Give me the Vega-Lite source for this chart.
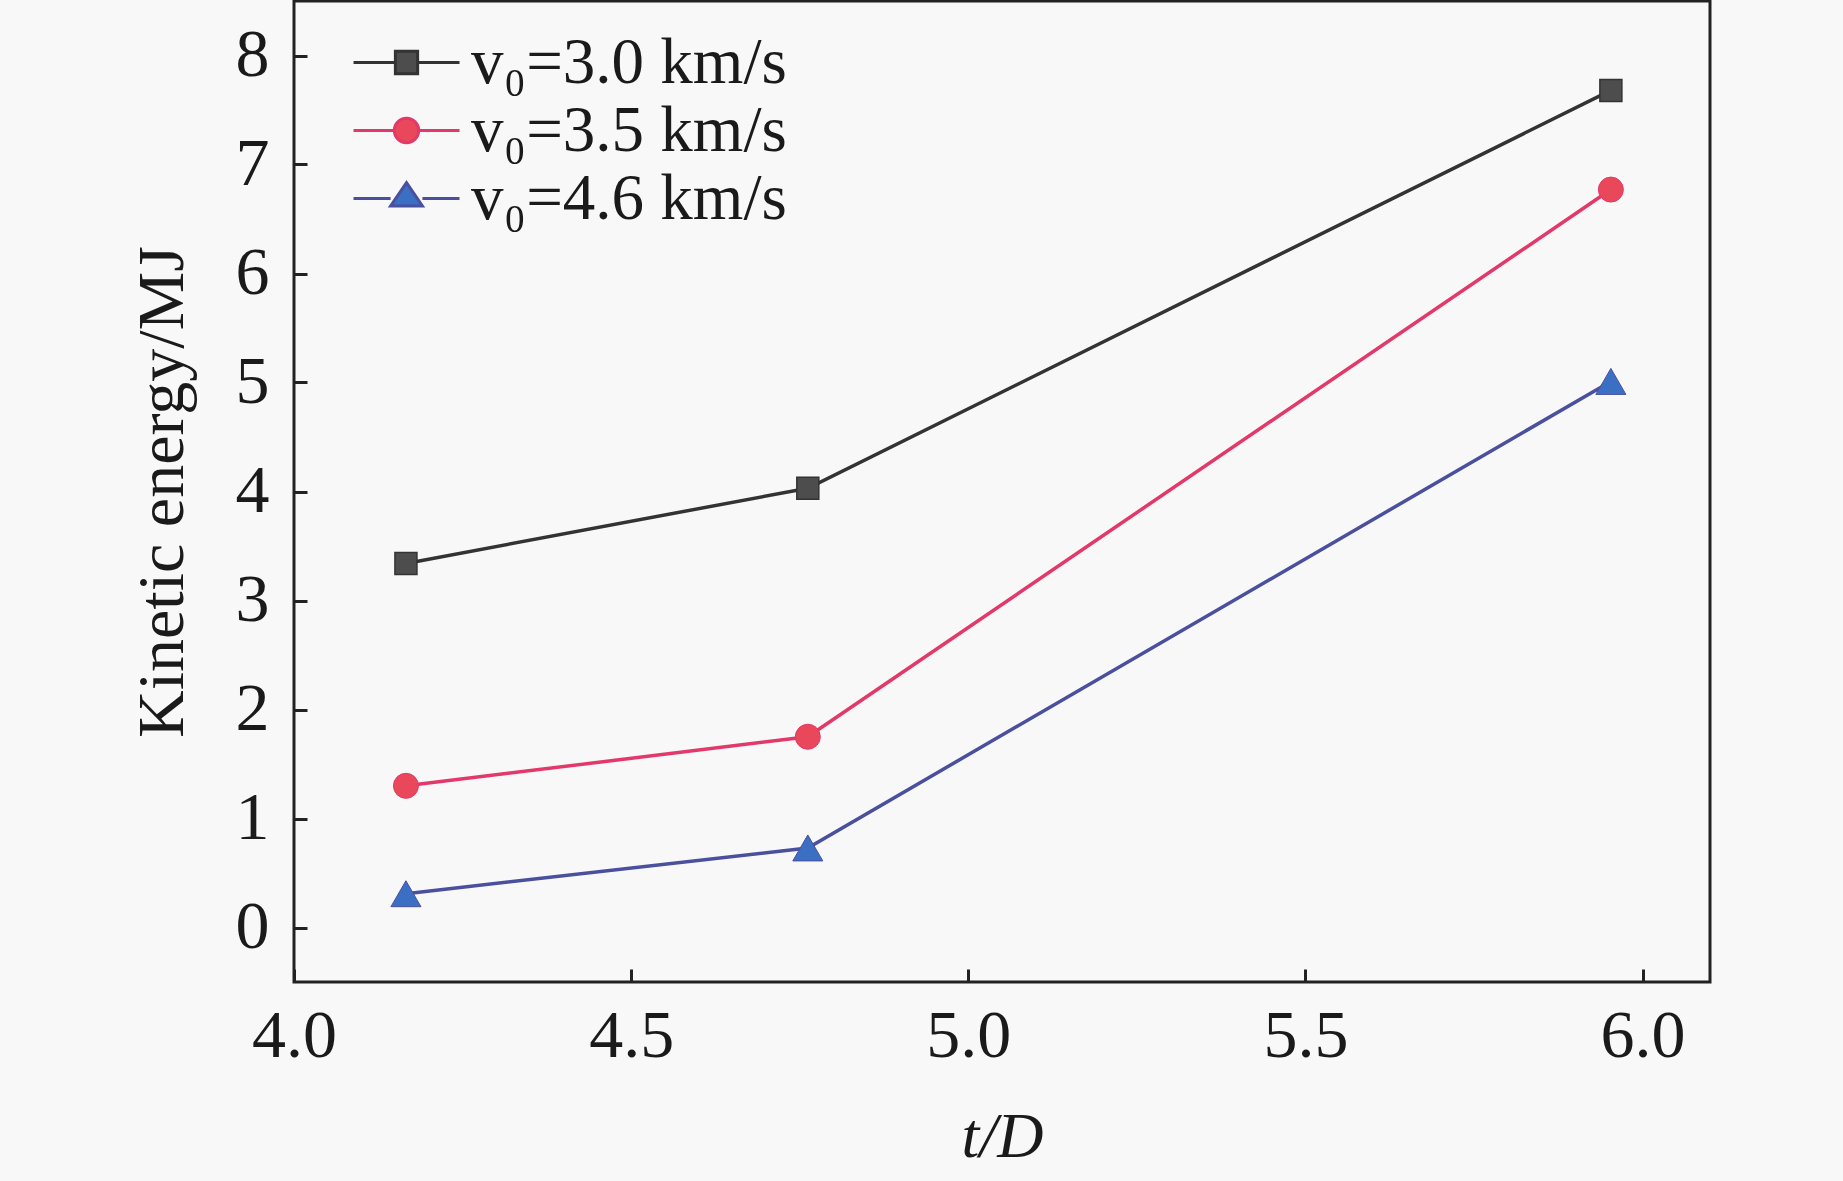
{
  "$schema": "https://vega.github.io/schema/vega-lite/v6.json",
  "width": 1416,
  "height": 981,
  "autosize": {"type": "none"},
  "padding": {"left": 294, "top": 1, "right": 133, "bottom": 199},
  "background": "#f8f8f8",
  "config": {
    "view": {"stroke": "#222222", "strokeWidth": 3, "fill": "#f8f8f8"},
    "font": "Liberation Serif",
    "axis": {
      "labelFont": "Liberation Serif",
      "titleFont": "Liberation Serif",
      "labelFontSize": 68,
      "titleFontSize": 66,
      "labelColor": "#1a1a1a",
      "titleColor": "#1a1a1a",
      "titleFontWeight": "normal",
      "grid": false,
      "domain": false,
      "ticks": true,
      "tickColor": "#222222",
      "tickWidth": 3,
      "tickSize": -13
    },
    "legend": {
      "orient": "none",
      "legendX": 58,
      "legendY": 29,
      "padding": 0,
      "labelFont": "Liberation Serif",
      "labelFontSize": 65,
      "labelColor": "#1a1a1a",
      "symbolSize": 11236,
      "symbolStrokeWidth": 3,
      "symbolOpacity": 1,
      "clipHeight": 65,
      "rowPadding": 2,
      "labelOffset": 10,
      "labelLimit": 600
    }
  },
  "data": {
    "values": [
      {"t": 4.166, "ke": 3.34, "series": "v₀=3.0 km/s"},
      {"t": 4.762, "ke": 4.03, "series": "v₀=3.0 km/s"},
      {"t": 5.953, "ke": 7.68, "series": "v₀=3.0 km/s"},
      {"t": 4.166, "ke": 1.30, "series": "v₀=3.5 km/s"},
      {"t": 4.762, "ke": 1.75, "series": "v₀=3.5 km/s"},
      {"t": 5.953, "ke": 6.77, "series": "v₀=3.5 km/s"},
      {"t": 4.166, "ke": 0.31, "series": "v₀=4.6 km/s"},
      {"t": 4.762, "ke": 0.73, "series": "v₀=4.6 km/s"},
      {"t": 5.953, "ke": 5.01, "series": "v₀=4.6 km/s"}
    ]
  },
  "encoding": {
    "x": {
      "field": "t", "type": "quantitative",
      "scale": {"domain": [4.0, 6.1], "nice": false, "zero": false},
      "axis": {"title": "t/D", "titleFontStyle": "italic", "titleFontSize": 64, "values": [4.0, 4.5, 5.0, 5.5, 6.0], "format": ".1f", "labelPadding": 33, "titlePadding": 35, "labelFlush": false}
    },
    "y": {
      "field": "ke", "type": "quantitative",
      "scale": {"domain": [-0.5, 8.5], "nice": false, "zero": false},
      "axis": {"title": "Kinetic energy/MJ", "values": [0, 1, 2, 3, 4, 5, 6, 7, 8], "labelPadding": 38, "titlePadding": 39, "labelFlush": false}
    }
  },
  "layer": [
    {
      "mark": {"type": "line", "strokeWidth": 3.5},
      "encoding": {
        "stroke": {
          "field": "series", "type": "nominal",
          "scale": {"domain": ["v₀=3.0 km/s", "v₀=3.5 km/s", "v₀=4.6 km/s"], "range": ["#333333", "#e2386a", "#4a4f9e"]},
          "legend": {"title": null}
        }
      }
    },
    {
      "transform": [{"filter": "datum.series === 'v₀=3.0 km/s'"}],
      "mark": {"type": "point", "shape": "square", "filled": true, "opacity": 1, "size": 484, "fill": "#4d4d4d", "stroke": "#333333", "strokeWidth": 1.5}
    },
    {
      "transform": [{"filter": "datum.series === 'v₀=3.5 km/s'"}],
      "mark": {"type": "point", "shape": "circle", "filled": true, "opacity": 1, "size": 625, "fill": "#e8485a", "stroke": "#e2386a", "strokeWidth": 1}
    },
    {
      "transform": [{"filter": "datum.series === 'v₀=4.6 km/s'"}],
      "mark": {"type": "point", "shape": "triangle-up", "filled": true, "opacity": 1, "size": 900, "fill": "#3b6fc4", "stroke": "#4a4f9e", "strokeWidth": 1}
    },
    {
      "mark": {"type": "point", "filled": true, "opacity": 0, "size": 10, "strokeWidth": 3},
      "encoding": {
        "shape": {
          "field": "series", "type": "nominal",
          "scale": {"domain": ["v₀=3.0 km/s", "v₀=3.5 km/s", "v₀=4.6 km/s"], "range": [
            "M-1,0H-0.21M0.21,0H1M-0.21,-0.21H0.21V0.21H-0.21Z",
            "M-1,0H-0.23M0.23,0H1M0.23,0A0.23,0.23,0,1,1,-0.23,0A0.23,0.23,0,1,1,0.23,0Z",
            "M-1,0H-0.3M0.3,0H1M0,-0.3L0.3,0.14H-0.3Z"
          ]},
          "legend": {"title": null}
        },
        "fill": {
          "field": "series", "type": "nominal",
          "scale": {"domain": ["v₀=3.0 km/s", "v₀=3.5 km/s", "v₀=4.6 km/s"], "range": ["#4d4d4d", "#e8485a", "#3b6fc4"]},
          "legend": {"title": null}
        },
        "stroke": {
          "field": "series", "type": "nominal",
          "scale": {"domain": ["v₀=3.0 km/s", "v₀=3.5 km/s", "v₀=4.6 km/s"], "range": ["#333333", "#e2386a", "#4a4f9e"]},
          "legend": {"title": null}
        }
      }
    }
  ]
}
